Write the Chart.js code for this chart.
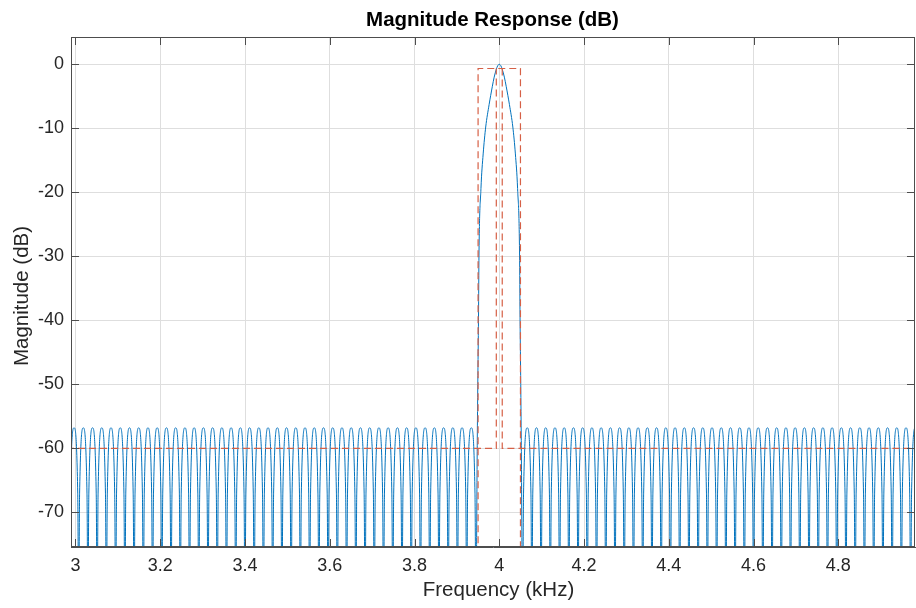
<!DOCTYPE html>
<html><head><meta charset="utf-8">
<script src="https://cdn.jsdelivr.net/npm/chart.js@4.4.1/dist/chart.umd.min.js"></script>
<style>html,body{margin:0;padding:0;background:#fff;}#wrap{width:916px;height:608px;}</style>
</head><body><div id="wrap"><canvas id="c" width="916" height="608"></canvas></div>
<script>
// Stopband below the passband (kHz / dB): null, shoulder, peak, shoulder per ripple lobe
const leftStopKHz = [
2.9857,2.9879,2.9966,3.0053, 3.0075,3.0097,3.0184,3.0271, 3.0293,3.0315,3.0402,3.0489,
3.0511,3.0533,3.0620,3.0707, 3.0729,3.0751,3.0838,3.0925, 3.0947,3.0969,3.1056,3.1143,
3.1165,3.1187,3.1274,3.1361, 3.1383,3.1405,3.1492,3.1579, 3.1601,3.1623,3.1710,3.1797,
3.1819,3.1841,3.1928,3.2015, 3.2037,3.2059,3.2146,3.2233, 3.2255,3.2277,3.2364,3.2451,
3.2473,3.2495,3.2582,3.2669, 3.2691,3.2713,3.2800,3.2887, 3.2909,3.2931,3.3018,3.3105,
3.3127,3.3149,3.3236,3.3323, 3.3345,3.3367,3.3454,3.3541, 3.3563,3.3585,3.3672,3.3759,
3.3781,3.3803,3.3890,3.3977, 3.3999,3.4021,3.4108,3.4195, 3.4217,3.4239,3.4326,3.4413,
3.4435,3.4457,3.4544,3.4631, 3.4653,3.4675,3.4762,3.4849, 3.4871,3.4893,3.4980,3.5067,
3.5089,3.5111,3.5198,3.5285, 3.5307,3.5329,3.5416,3.5503, 3.5525,3.5547,3.5634,3.5721,
3.5743,3.5765,3.5852,3.5939, 3.5961,3.5983,3.6070,3.6157, 3.6179,3.6201,3.6288,3.6375,
3.6397,3.6419,3.6506,3.6593, 3.6615,3.6637,3.6724,3.6811, 3.6833,3.6855,3.6942,3.7029,
3.7051,3.7073,3.7160,3.7247, 3.7269,3.7291,3.7378,3.7465, 3.7487,3.7509,3.7596,3.7683,
3.7705,3.7727,3.7814,3.7901, 3.7923,3.7945,3.8032,3.8119, 3.8141,3.8163,3.8250,3.8337,
3.8359,3.8381,3.8468,3.8555, 3.8577,3.8599,3.8686,3.8773, 3.8795,3.8817,3.8904,3.8991,
3.9013,3.9035,3.9122,3.9209, 3.9231,3.9253,3.9340,3.9427
];
const leftStopDb = [
-85,-67,-56.8,-67, -85,-67,-56.8,-67, -85,-67,-56.8,-67,
-85,-67,-56.8,-67, -85,-67,-56.8,-67, -85,-67,-56.8,-67,
-85,-67,-56.8,-67, -85,-67,-56.8,-67, -85,-67,-56.8,-67,
-85,-67,-56.8,-67, -85,-67,-56.8,-67, -85,-67,-56.8,-67,
-85,-67,-56.8,-67, -85,-67,-56.8,-67, -85,-67,-56.8,-67,
-85,-67,-56.8,-67, -85,-67,-56.8,-67, -85,-67,-56.8,-67,
-85,-67,-56.8,-67, -85,-67,-56.8,-67, -85,-67,-56.8,-67,
-85,-67,-56.8,-67, -85,-67,-56.8,-67, -85,-67,-56.8,-67,
-85,-67,-56.8,-67, -85,-67,-56.8,-67, -85,-67,-56.8,-67,
-85,-67,-56.8,-67, -85,-67,-56.8,-67, -85,-67,-56.8,-67,
-85,-67,-56.8,-67, -85,-67,-56.8,-67, -85,-67,-56.8,-67,
-85,-67,-56.8,-67, -85,-67,-56.8,-67, -85,-67,-56.8,-67,
-85,-67,-56.8,-67, -85,-67,-56.8,-67, -85,-67,-56.8,-67,
-85,-67,-56.8,-67, -85,-67,-56.8,-67, -85,-67,-56.8,-67,
-85,-67,-56.8,-67, -85,-67,-56.8,-67
];
// Passband main lobe
const mainLobeKHz = [3.9449,3.9481,3.9493,3.9510,3.9521,3.9568,3.9620,3.9680,3.9760,3.9835,3.9880,3.9929,3.9965,
                     4.0000,
                     4.0035,4.0071,4.0120,4.0165,4.0240,4.0320,4.0380,4.0432,4.0479,4.0490,4.0507,4.0519,4.0551];
const mainLobeDb  = [-85,-58.8,-50,-39.5,-29.8,-19.4,-14,-9.8,-6.3,-3.5,-2.0,-0.8,-0.2,
                     0,
                     -0.2,-0.8,-2.0,-3.5,-6.3,-9.8,-14,-19.4,-29.8,-39.5,-50,-58.8,-85];
// Stopband above the passband: shoulder, peak, shoulder, null per lobe
const rightStopKHz = [
4.0573,4.0660,4.0747,4.0769, 4.0791,4.0878,4.0965,4.0987, 4.1009,4.1096,4.1183,4.1205,
4.1227,4.1314,4.1401,4.1423, 4.1445,4.1532,4.1619,4.1641, 4.1663,4.1750,4.1837,4.1859,
4.1881,4.1968,4.2055,4.2077, 4.2099,4.2186,4.2273,4.2295, 4.2317,4.2404,4.2491,4.2513,
4.2535,4.2622,4.2709,4.2731, 4.2753,4.2840,4.2927,4.2949, 4.2971,4.3058,4.3145,4.3167,
4.3189,4.3276,4.3363,4.3385, 4.3407,4.3494,4.3581,4.3603, 4.3625,4.3712,4.3799,4.3821,
4.3843,4.3930,4.4017,4.4039, 4.4061,4.4148,4.4235,4.4257, 4.4279,4.4366,4.4453,4.4475,
4.4497,4.4584,4.4671,4.4693, 4.4715,4.4802,4.4889,4.4911, 4.4933,4.5020,4.5107,4.5129,
4.5151,4.5238,4.5325,4.5347, 4.5369,4.5456,4.5543,4.5565, 4.5587,4.5674,4.5761,4.5783,
4.5805,4.5892,4.5979,4.6001, 4.6023,4.6110,4.6197,4.6219, 4.6241,4.6328,4.6415,4.6437,
4.6459,4.6546,4.6633,4.6655, 4.6677,4.6764,4.6851,4.6873, 4.6895,4.6982,4.7069,4.7091,
4.7113,4.7200,4.7287,4.7309, 4.7331,4.7418,4.7505,4.7527, 4.7549,4.7636,4.7723,4.7745,
4.7767,4.7854,4.7941,4.7963, 4.7985,4.8072,4.8159,4.8181, 4.8203,4.8290,4.8377,4.8399,
4.8421,4.8508,4.8595,4.8617, 4.8639,4.8726,4.8813,4.8835, 4.8857,4.8944,4.9031,4.9053,
4.9075,4.9162,4.9249,4.9271, 4.9293,4.9380,4.9467,4.9489, 4.9511,4.9598,4.9685,4.9707,
4.9729,4.9816,4.9903,4.9925
];
const rightStopDb = [
-67,-56.8,-67,-85, -67,-56.8,-67,-85, -67,-56.8,-67,-85,
-67,-56.8,-67,-85, -67,-56.8,-67,-85, -67,-56.8,-67,-85,
-67,-56.8,-67,-85, -67,-56.8,-67,-85, -67,-56.8,-67,-85,
-67,-56.8,-67,-85, -67,-56.8,-67,-85, -67,-56.8,-67,-85,
-67,-56.8,-67,-85, -67,-56.8,-67,-85, -67,-56.8,-67,-85,
-67,-56.8,-67,-85, -67,-56.8,-67,-85, -67,-56.8,-67,-85,
-67,-56.8,-67,-85, -67,-56.8,-67,-85, -67,-56.8,-67,-85,
-67,-56.8,-67,-85, -67,-56.8,-67,-85, -67,-56.8,-67,-85,
-67,-56.8,-67,-85, -67,-56.8,-67,-85, -67,-56.8,-67,-85,
-67,-56.8,-67,-85, -67,-56.8,-67,-85, -67,-56.8,-67,-85,
-67,-56.8,-67,-85, -67,-56.8,-67,-85, -67,-56.8,-67,-85,
-67,-56.8,-67,-85, -67,-56.8,-67,-85, -67,-56.8,-67,-85,
-67,-56.8,-67,-85, -67,-56.8,-67,-85, -67,-56.8,-67,-85,
-67,-56.8,-67,-85, -67,-56.8,-67,-85, -67,-56.8,-67,-85,
-67,-56.8,-67,-85
];
// Specification mask
const maskLeftKHz  = [2.98, 3.993, 3.993];
const maskLeftDb   = [-60, -60, -0.65];
const maskBoxKHz   = [3.95, 3.95, 4.05, 4.05];
const maskBoxDb    = [-80, -0.65, -0.65, -80];
const maskRightKHz = [4.007, 4.007, 5.0];
const maskRightDb  = [-0.65, -60, -60];
// Axes
const xTickValues = [3, 3.2, 3.4, 3.6, 3.8, 4, 4.2, 4.4, 4.6, 4.8];
const xTickLabels = ['3','3.2','3.4','3.6','3.8','4','4.2','4.4','4.6','4.8'];
const yTickValues = [-70, -60, -50, -40, -30, -20, -10, 0];
const yTickLabels = ['-70','-60','-50','-40','-30','-20','-10','0'];
const titleText = 'Magnitude Response (dB)';
const xTitle = 'Frequency (kHz)';
const yTitle = 'Magnitude (dB)';

const FONT = '"Liberation Sans", Arial, Helvetica, sans-serif';
const pts = (xs, ys) => xs.map((x, i) => ({x: x, y: ys[i]}));
const respX = leftStopKHz.concat(mainLobeKHz, rightStopKHz);
const respY = leftStopDb.concat(mainLobeDb, rightStopDb);
const maskColor = 'rgb(214,96,70)';
const maskStyle = {borderColor: maskColor, borderWidth: 1.2, borderDash: [7, 4], pointRadius: 0, tension: 0, fill: false};

const boxPlugin = {
  id: 'box',
  afterDraw(chart) {
    const ctx = chart.ctx, a = chart.chartArea, x = chart.scales.x, y = chart.scales.y;
    ctx.save();
    ctx.strokeStyle = '#4d4d4d';
    ctx.lineWidth = 1;
    ctx.beginPath();
    ctx.moveTo(a.left, a.top + 0.5); ctx.lineTo(a.right, a.top + 0.5);
    ctx.moveTo(a.left, a.bottom - 0.5); ctx.lineTo(a.right, a.bottom - 0.5);
    ctx.moveTo(a.left + 0.5, a.top); ctx.lineTo(a.left + 0.5, a.bottom);
    ctx.moveTo(a.right - 0.5, a.top); ctx.lineTo(a.right - 0.5, a.bottom);
    xTickValues.forEach(v => {
      const px = Math.round(x.getPixelForValue(v)) + 0.5;
      ctx.moveTo(px, a.bottom); ctx.lineTo(px, a.bottom - 8);
      ctx.moveTo(px, a.top); ctx.lineTo(px, a.top + 8);
    });
    yTickValues.forEach(v => {
      const py = Math.round(y.getPixelForValue(v)) + 0.5;
      ctx.moveTo(a.left, py); ctx.lineTo(a.left + 8, py);
      ctx.moveTo(a.right, py); ctx.lineTo(a.right - 8, py);
    });
    ctx.stroke();
    ctx.textAlign = 'center';
    ctx.textBaseline = 'middle';
    ctx.fillStyle = '#000';
    ctx.font = 'bold 20.5px ' + FONT;
    ctx.fillText(titleText, 492.5, 20);
    ctx.fillStyle = '#262626';
    ctx.font = '20.5px ' + FONT;
    ctx.fillText(xTitle, 498.5, 590);
    ctx.translate(22, 296);
    ctx.rotate(-Math.PI / 2);
    ctx.fillText(yTitle, 0, 0);
    ctx.restore();
  }
};

new Chart(document.getElementById('c').getContext('2d'), {
  type: 'line',
  data: {
    datasets: [
      Object.assign({label: 'mask1', data: pts(maskLeftKHz, maskLeftDb)}, maskStyle),
      Object.assign({label: 'mask2', data: pts(maskBoxKHz, maskBoxDb)}, maskStyle),
      Object.assign({label: 'mask3', data: pts(maskRightKHz, maskRightDb)}, maskStyle),
      {label: 'response', data: pts(respX, respY), borderColor: '#0072BD', borderWidth: 1,
       pointRadius: 0, cubicInterpolationMode: 'monotone', fill: false}
    ]
  },
  options: {
    responsive: false, animation: false, devicePixelRatio: 1,
    layout: {padding: {top: 37, right: 1, left: 0, bottom: 0}},
    plugins: {legend: {display: false}, tooltip: {enabled: false}, title: {display: false}},
    scales: {
      x: {
        type: 'linear', min: 2.9894, max: 4.981,
        afterBuildTicks: s => { s.ticks = xTickValues.map(v => ({value: v})); },
        afterFit: s => { s.height = 61; },
        grid: {color: '#dedede', drawTicks: false},
        border: {display: true, color: '#4d4d4d'},
        ticks: {padding: 8, color: '#262626', autoSkip: false, maxRotation: 0,
                font: {family: FONT, size: 18},
                callback: v => xTickLabels[xTickValues.indexOf(v)]}
      },
      y: {
        type: 'linear', min: -75.42, max: 4.27,
        afterBuildTicks: s => { s.ticks = yTickValues.map(v => ({value: v})); },
        afterFit: s => { s.width = 71; },
        grid: {color: '#dedede', drawTicks: false},
        border: {display: true, color: '#4d4d4d'},
        ticks: {padding: 7, color: '#262626', autoSkip: false,
                font: {family: FONT, size: 18},
                callback: v => yTickLabels[yTickValues.indexOf(v)]}
      }
    }
  },
  plugins: [boxPlugin]
});
</script></body></html>
